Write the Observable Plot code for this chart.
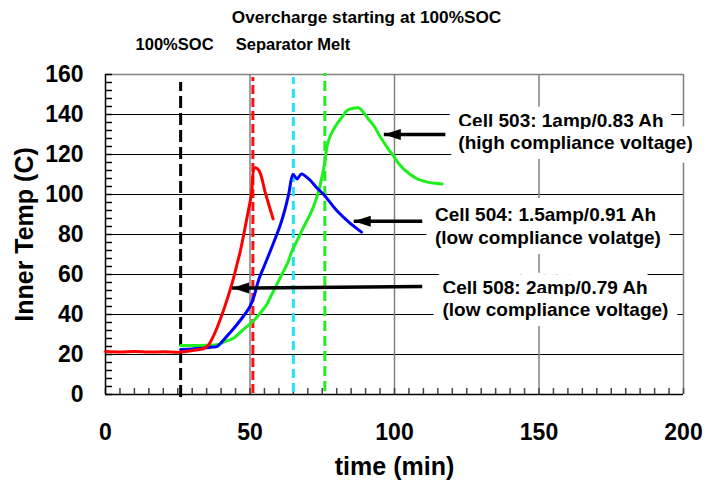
<!DOCTYPE html>
<html><head><meta charset="utf-8">
<script src="https://cdn.jsdelivr.net/npm/d3@7"></script>
<script src="https://cdn.jsdelivr.net/npm/@observablehq/plot@0.6"></script>
<style>body{margin:0;background:#fff}</style>
</head><body><div id="chart"></div>
<script>
// ---- data ----
const title = "Overcharge starting at 100%SOC";
const xLabel = "time (min)";
const yLabel = "Inner Temp (C)";
const xTicks = [0, 50, 100, 150, 200];
const yTicks = [0, 20, 40, 60, 80, 100, 120, 140, 160];
const xMinor = d3.range(0, 201, 5);
const yMinor = d3.range(0, 161, 4);

// Cell 503 (green)
const cell503Time = [26, 30, 35, 39, 41, 44.4, 47.3, 51.3, 54, 55.9, 57.5, 59.4, 61, 62.9, 64.6, 67, 69, 70.9, 72.5, 74, 75, 76, 76.7, 78, 80.1, 82, 83.6, 85.5, 87.7, 89, 90.8, 92.8, 95, 97.4, 100, 102, 105, 107.9, 111, 114, 116.5];
const cell503Temp = [24.5, 24.5, 24.6, 25, 26.3, 28.3, 32, 37, 41.5, 45.3, 50, 55.3, 60, 65.3, 72, 79, 85, 90.3, 96, 103, 109.5, 117, 124.5, 130, 135.3, 139, 142, 143, 143.3, 141.5, 138, 134.5, 129, 123.7, 118.5, 114.5, 110.5, 107.8, 106.3, 105.6, 105.3];
// Cell 504 (blue)
const cell504Time = [26, 30, 34, 37, 38.6, 41, 43.3, 45.5, 47.9, 50, 51.3, 53.1, 55, 57.1, 59, 60.6, 62, 63.4, 64.9, 66.3, 67.8, 70.9, 73, 75.5, 80, 84.2, 88.6];
const cell504Temp = [22.5, 22.8, 23.2, 23.7, 24, 27.5, 31.2, 35, 39.5, 44, 48.7, 57.8, 64.5, 72, 79, 85.3, 92, 100.3, 110, 107.8, 110.3, 107, 103.5, 100, 92, 86.2, 81.2];
// Cell 508 (red)
const cell508Time = [0, 5, 10, 15, 20, 26, 30, 34, 35.5, 37.7, 40.4, 42.7, 44.4, 45.5, 46.7, 49, 50.5, 51.6, 53.1, 55.4, 58];
const cell508Temp = [21.5, 21.3, 21.5, 21.2, 21.4, 21.2, 22, 23, 24.5, 30.3, 40.3, 50.3, 58.7, 65, 72, 88.7, 100.3, 113.3, 112, 100.3, 87.8];

const seriesNames = ["Cell 503", "Cell 504", "Cell 508"];
const seriesColors = ["#1ef01e", "#0000ff", "#ff0000"];

// vertical dashed markers
const markTime = [26, 51, 65, 75.9];
const markColor = ["#000000", "#ff1010", "#22e4f2", "#1ef01e"];
const markBottom = [-1.5, 0.5, 1, 1.5];
const markTop = [156, 158.5, 158.5, 160.5];
const markDash = ["12,5", "9,4", "9,5", "10,5"];

// labels above the plot
const topLabelText = ["100%SOC", "Separator Melt"];
const topLabelTime = [23.9, 64.9];
const titleTime = 90.3;

// annotations
const noteText = [
  "Cell 503: 1amp/0.83 Ah\n(high compliance voltage)",
  "Cell 504: 1.5amp/0.91 Ah\n(low compliance volatge)",
  "Cell 508: 2amp/0.79 Ah\n(low compliance voltage)"
];
const noteTime = [122.1, 114, 116.6];
const noteTemp = [131.8, 84.5, 48.2];
const arrowFromTime = [117.6, 109.6, 109.6];
const arrowFromTemp = [130, 86.6, 54];
const arrowToTime = [96.3, 85.9, 43.8];
const arrowToTemp = [130, 86.6, 53.2];

// ---- layout ----
const W = 706, H = 483, ML = 105, MR = 23, MT = 74, MB = 89;
const X_DOMAIN = [0, 200], Y_DOMAIN = [0, 160];
// minor tick lengths (pixels) converted into data units
const yTickLen = 7 * (X_DOMAIN[1] - X_DOMAIN[0]) / (W - ML - MR);
const xTickLen = 6 * (Y_DOMAIN[1] - Y_DOMAIN[0]) / (H - MT - MB);

// ---- build tables ----
const curves = [
  [cell503Time, cell503Temp],
  [cell504Time, cell504Temp],
  [cell508Time, cell508Temp]
].flatMap(([t, v], i) => t.map((x, j) => ({series: seriesNames[i], time: x, temp: v[j]})));
const marks = markTime.map((t, i) => ({time: t, color: markColor[i], y1: markBottom[i], y2: markTop[i], dash: markDash[i]}));
const notes = noteText.map((s, i) => ({text: s, x: noteTime[i], y: noteTemp[i]}));
const arrows = arrowFromTime.map((x, i) => ({x1: x, y1: arrowFromTemp[i], x2: arrowToTime[i], y2: arrowToTemp[i]}));
const topLabels = topLabelText.map((s, i) => ({text: s, x: topLabelTime[i]}));

const FONT = "'Liberation Sans', Arial, Helvetica, sans-serif";
const arrowHead = {draw(ctx) { ctx.moveTo(0, 0); ctx.lineTo(17, -5.5); ctx.lineTo(17, 5.5); ctx.closePath(); }};

const chart = Plot.plot({
  width: W, height: H,
  marginLeft: ML, marginRight: MR, marginTop: MT, marginBottom: MB,
  x: {domain: X_DOMAIN, axis: null},
  y: {domain: Y_DOMAIN, axis: null},
  color: {domain: seriesNames, range: seriesColors},
  style: {fontFamily: FONT, background: "white", overflow: "visible"},
  marks: [
    // grid
    Plot.ruleY(yTicks.filter(d => d > 0 && d < 160), {stroke: "#000", strokeWidth: 1}),
    Plot.ruleX(xTicks.filter(d => d > 0 && d < 200), {stroke: "#808080", strokeWidth: 1.5}),
    Plot.ruleY([160], {stroke: "#808080", strokeWidth: 1.5}),
    Plot.ruleX([200], {stroke: "#808080", strokeWidth: 1.5}),
    // minor ticks (pointing inward)
    Plot.ruleY(yMinor, {y: d => d, x1: () => X_DOMAIN[0], x2: () => X_DOMAIN[0] + yTickLen, stroke: "#000", strokeWidth: 1.5}),
    Plot.ruleX(xMinor, {x: d => d, y1: () => Y_DOMAIN[0], y2: () => Y_DOMAIN[0] + xTickLen, stroke: "#444", strokeWidth: 1.5}),
    Plot.ruleX([0], {stroke: "#000", strokeWidth: 1.5}),
    Plot.ruleY([0], {stroke: "#000", strokeWidth: 1.5}),
    // tick labels
    Plot.axisY(yTicks, {tickSize: 0, tickPadding: 22, fontSize: 23, fontWeight: "bold", label: null}),
    Plot.axisX(xTicks, {tickSize: 0, tickPadding: 29, fontSize: 23, fontWeight: "bold", label: null}),
    // axis titles
    Plot.text([xLabel], {frameAnchor: "bottom", dy: 72, fontSize: 25, fontWeight: "bold", lineAnchor: "middle"}),
    Plot.text([yLabel], {frameAnchor: "left", dx: -81, rotate: -90, fontSize: 25, fontWeight: "bold", lineAnchor: "middle", textAnchor: "middle"}),
    // top labels
    Plot.text([title], {x: () => titleTime, frameAnchor: "top", dy: -57, fontSize: 17.2, fontWeight: "bold", lineAnchor: "middle"}),
    Plot.text(topLabels, {x: "x", text: "text", frameAnchor: "top", dy: -30, fontSize: 16.5, fontWeight: "bold", lineAnchor: "middle"}),
    // dashed markers
    ...marks.map(m => Plot.ruleX([m], {x: "time", y1: "y1", y2: "y2", stroke: m.color, strokeWidth: 3, strokeDasharray: m.dash})),
    // curves
    Plot.line(curves, {x: "time", y: "temp", z: "series", stroke: "series", strokeWidth: 3, curve: "catmull-rom"}),
    // arrows
    Plot.link(arrows, {x1: "x1", y1: "y1", x2: "x2", y2: "y2", stroke: "#000", strokeWidth: 3.5}),
    Plot.dot(arrows, {x: "x2", y: "y2", symbol: arrowHead, fill: "#000", stroke: null, r: 5}),
    // annotations
    Plot.text(notes, {x: "x", y: "y", text: "text", textAnchor: "start", lineAnchor: "middle", lineHeight: 1.18, fontSize: 19, fontWeight: "bold", fill: "#000", stroke: "white", strokeWidth: 20, strokeLinejoin: "round"})
  ]
});
document.getElementById("chart").append(chart);
</script>
</body></html>
